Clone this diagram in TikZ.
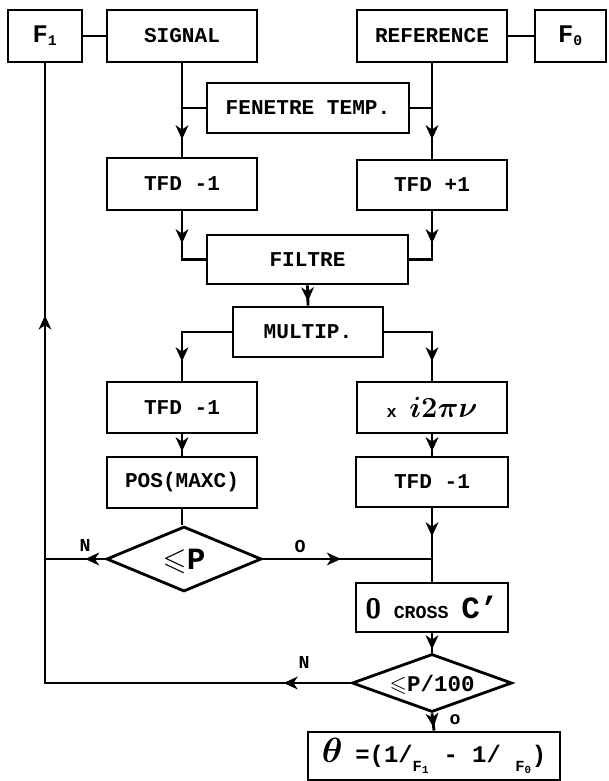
\documentclass[tikz,border=0pt]{standalone}
\usepackage{amsmath}
\usepackage{amssymb}
\usepackage{fontspec}
\setmainfont{Liberation Mono}
\usetikzlibrary{shapes.geometric,arrows.meta,decorations.markings}

\begin{document}
\begin{tikzpicture}[x=0.025cm, y=-0.025cm, line width=2pt,
    box/.style={rectangle, draw, line width=2pt, minimum width=3.75cm, minimum height=1.3cm, inner sep=0pt, font=\fontsize{15}{17}\selectfont\bfseries},
    test/.style={diamond, draw, line width=2pt, inner sep=0pt, font=\fontsize{15}{17}\selectfont\bfseries},
    lbl/.style={font=\fontsize{13}{15}\selectfont\bfseries},
    midarr/.style={postaction={decorate}, decoration={markings, mark=at position #1 with {\arrow{Stealth[length=10pt,width=9pt,inset=3pt]}}}}]
    \useasboundingbox (0,0) rectangle (608,781);

    \node[box, minimum width=1.85cm] (f1) at (45,36) {{\fontsize{18}{20}\selectfont F}\textsubscript{1}};
    \node[box] (signal) at (182,36) {SIGNAL};
    \node[box] (reference) at (432,36) {REFERENCE};
    \node[box, minimum width=1.775cm] (f0) at (570.5,36) {{\fontsize{18}{20}\selectfont F}\textsubscript{0}};
    \node[box, minimum width=5.05cm, minimum height=1.25cm] (fenetre) at (308,108) {FENETRE TEMP.};
    \node[box] (tfda) at (182,184) {TFD -1};
    \node[box, minimum height=1.25cm] (tfdb) at (432,185) {TFD +1};
    \node[box, minimum width=5.025cm, minimum height=1.225cm] (filtre) at (307.5,259.5) {FILTRE};
    \node[box, minimum height=1.25cm] (multip) at (308,332) {MULTIP.};
    \node[box, minimum height=1.275cm] (tfdc) at (182,407.5) {TFD -1};
    \node[box, minimum height=1.275cm] (mult) at (432,407.5) {{\fontsize{12}{14}\selectfont x} {\fontsize{20}{22}\selectfont$\boldsymbol{i2\pi\nu}$}};
    \node[box, minimum height=1.275cm] (pos) at (182,482.5) {POS(MAXC)};
    \node[box, minimum height=1.25cm, minimum width=3.8cm] (tfdd) at (432,482) {TFD -1};
    \node[test, minimum width=3.875cm, minimum height=1.625cm] (leqp) at (184,559) {\smash{\makebox[0pt]{\fontsize{22}{24}\selectfont\raisebox{-.5\height}{$\leqslant$P}}}};
    \node[box, minimum height=1.225cm, minimum width=3.8cm] (cross) at (432,607.5) {{\fontsize{20}{22}\selectfont\sffamily 0} {\fontsize{13}{15}\selectfont CROSS} {\fontsize{22}{24}\selectfont C'}};
    \node[test, minimum width=4cm, minimum height=1.45cm] (leqq) at (432,683) {\smash{\makebox[0pt]{\fontsize{16}{18}\selectfont\raisebox{-.5\height}{$\leqslant$P/100}}}};
    \node[box, minimum width=6.3cm, minimum height=1.2cm] (theta) at (434,756) {{\fontsize{24}{26}\selectfont$\boldsymbol{\theta}$} {\fontsize{17}{19}\selectfont =(1/\raisebox{-0.7ex}{\fontsize{11}{12}\selectfont F\textsubscript{1}} - 1/ \raisebox{-0.7ex}{\fontsize{11}{12}\selectfont F\textsubscript{0}})}};

    % branch labels
    \node[lbl] (na) at (85,545) {N};
    \node[lbl] (oa) at (300,546) {O};
    \node[lbl] (nb) at (304,662) {N};
    \node[lbl] (ob) at (455,720) {o};

    \coordinate (fa) at (fenetre.west -| signal.south);
    \coordinate (fb) at (fenetre.east -| reference.south);
    \coordinate (jo) at (tfdd.south |- leqp.east);
    \coordinate (jn) at (f1.south |- leqp.west);

    \draw (f1) -- (signal);
    \draw (reference) -- (f0);
    \draw[midarr=1.9cm] (signal.south) -- (tfda.north);
    \draw[midarr=1.9cm] (reference.south) -- (tfdb.north);
    \draw (fenetre.west) -- (fa);
    \draw (fenetre.east) -- (fb);
    \draw[midarr=0.8cm] (tfda.south) |- (filtre.west);
    \draw[midarr=0.8cm] (tfdb.south) |- (filtre.east);
    \draw[midarr=0.4cm] (filtre.south) -- (multip.north);
    \draw[midarr=1.975cm] (multip.west) -| (tfdc.north);
    \draw[midarr=1.925cm] (multip.east) -| (mult.north);
    \draw[midarr=0.425cm] (tfdc.south) -- (pos.north);
    \draw[midarr=0.425cm] (mult.south) -- (tfdd.north);
    \draw (pos.south) -- (pos.south |- leqp.north);
    \draw[midarr=0.7cm] (tfdd.south) -- (cross.north);
    \draw[midarr=1.95cm] (leqp.east) -- (jo);
    \draw[midarr=0.5cm] (leqp.west) -- (jn);
    \draw[midarr=0.4cm] (cross.south) -- (leqq.north);
    \draw[midarr=0.35cm] (leqq.south) -- (theta.north);
    % loop back to F1
    \draw[postaction={decorate}, decoration={markings,
        mark=at position 1.675cm with {\arrow{Stealth[length=10pt,width=9pt,inset=3pt]}},
        mark=at position 16.825cm with {\arrow{Stealth[length=10pt,width=9pt,inset=3pt]}}}]
        (leqq.west) -| (f1.south);
\end{tikzpicture}
\end{document}
